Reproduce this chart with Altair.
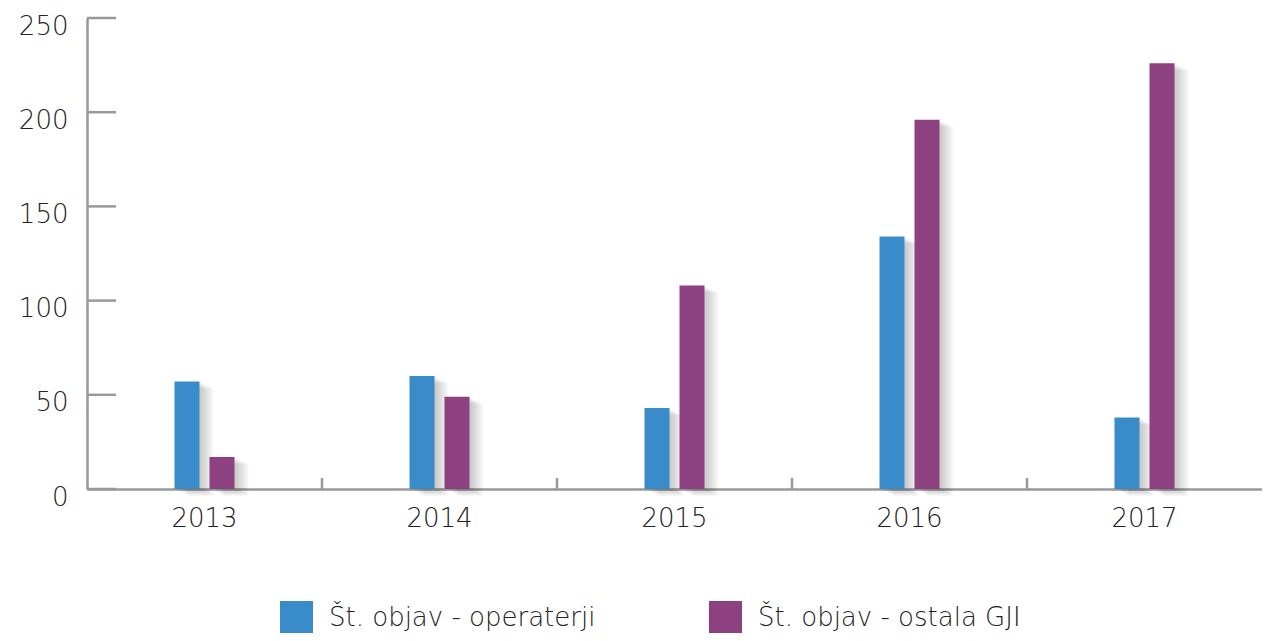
import altair as alt
import pandas as pd

years = ["2013", "2014", "2015", "2016", "2017"]
series = ["Št. objav - operaterji", "Št. objav - ostala GJI"]
operaterji = [57, 60, 43, 134, 38]
ostala = [17, 49, 108, 196, 226]
y_ticks = [0, 50, 100, 150, 200, 250]
colors = ["#3a8bc9", "#8e4180"]

rows = []
for i, yr in enumerate(years):
    rows.append({"year": yr, "series": series[0], "value": operaterji[i]})
    rows.append({"year": yr, "series": series[1], "value": ostala[i]})
df = pd.DataFrame(rows)

FONT = "DejaVu Sans"
W, H = 1175, 471
x_scale = alt.Scale(domain=years, paddingInner=0, paddingOuter=0)
y_scale = alt.Scale(domain=[0, 250], nice=False)
band = W / len(years)
start = (band - 60) / 2

x_axis = alt.Axis(title=None, labelAngle=0, labelFontSize=26, labelFont=FONT,
                  labelFontWeight=300, labelColor="#222222", labelPadding=16,
                  ticks=False, domainColor="#999999", domainWidth=2.5)
y_axis = alt.Axis(title=None, values=y_ticks, grid=False, ticks=False,
                  labelFontSize=26, labelFont=FONT, labelFontWeight=300,
                  labelColor="#222222", labelPadding=19, labelOffset=8,
                  domainColor="#999999", domainWidth=2.5)


def off_scale(shift):
    return alt.Scale(domain=series, range=[start + shift, start + 60 + shift],
                     paddingInner=0.286, paddingOuter=0)


base = alt.Chart(df)

shadows = []
for k in [2, 4, 6, 8, 10, 12, 14]:
    shadows.append(base.mark_bar(color="#000000", opacity=0.03, yOffset=k * 0.5).encode(
        x=alt.X("year:N", scale=x_scale, sort=years, axis=x_axis),
        xOffset=alt.XOffset("series:N", sort=series, scale=off_scale(k)),
        y=alt.Y("value:Q", scale=y_scale, axis=y_axis),
    ))

bars = base.mark_bar().encode(
    x=alt.X("year:N", scale=x_scale, sort=years, axis=x_axis),
    xOffset=alt.XOffset("series:N", sort=series, scale=off_scale(0)),
    y=alt.Y("value:Q", scale=y_scale, axis=y_axis),
    color=alt.Color("series:N", sort=series, scale=alt.Scale(domain=series, range=colors),
                    legend=alt.Legend(title=None, orient="none", legendX=193, legendY=583,
                                      direction="horizontal", columns=2, columnPadding=113,
                                      symbolType="square", symbolSize=1089, symbolStrokeWidth=0,
                                      symbolOpacity=1, labelFontSize=26, labelFont=FONT,
                                      labelFontWeight=300, labelColor="#222222",
                                      labelOffset=16, labelLimit=500)),
)

xt = pd.DataFrame({"year": years[1:]})
xticks = alt.Chart(xt).mark_rule(color="#999999", strokeWidth=2.5).encode(
    x=alt.X("year:N", scale=x_scale, bandPosition=0),
    y=alt.value(H - 11),
    y2=alt.value(H),
)

yt = pd.DataFrame({"t": y_ticks})
yticks = alt.Chart(yt).mark_rule(color="#999999", strokeWidth=2.5).encode(
    y=alt.Y("t:Q", scale=y_scale),
    x=alt.value(0),
    x2=alt.value(29),
)

chart = alt.layer(*shadows, bars, xticks, yticks).resolve_scale(
    xOffset="independent"
).properties(
    width=W, height=H, autosize="none",
    padding={"left": 79, "top": 10, "right": 0, "bottom": 144},
).configure_view(stroke=None)

chart.save("out.html", embed_options={"renderer": "svg", "actions": False})
